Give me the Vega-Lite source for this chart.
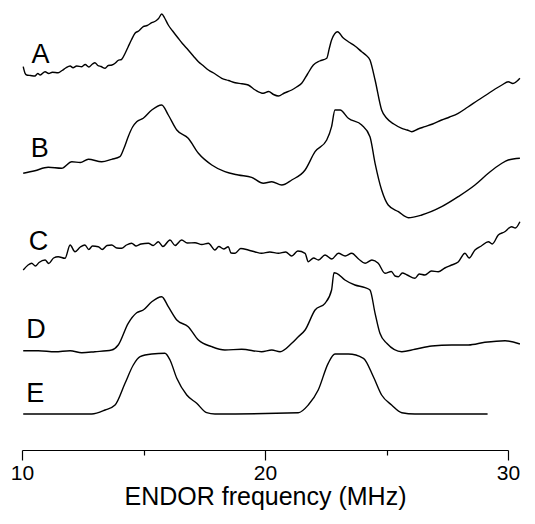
{
  "$schema": "https://vega.github.io/schema/vega-lite/v6.json",
  "width": 486,
  "height": 450,
  "autosize": {"type": "none"},
  "padding": {"left": 22, "top": 0, "right": 27, "bottom": 74},
  "background": "white",
  "config": {"view": {"stroke": null}, "font": "Liberation Sans"},
  "datasets": {
    "traces": [
      {"trace": "A", "freq": 10.05, "signal": 383.3},
      {"trace": "A", "freq": 10.12, "signal": 377},
      {"trace": "A", "freq": 10.19, "signal": 375},
      {"trace": "A", "freq": 10.35, "signal": 374.5},
      {"trace": "A", "freq": 10.53, "signal": 374},
      {"trace": "A", "freq": 10.65, "signal": 376.5},
      {"trace": "A", "freq": 10.75, "signal": 375},
      {"trace": "A", "freq": 10.95, "signal": 378.3},
      {"trace": "A", "freq": 11.1, "signal": 376.5},
      {"trace": "A", "freq": 11.25, "signal": 377.8},
      {"trace": "A", "freq": 11.49, "signal": 377.3},
      {"trace": "A", "freq": 11.65, "signal": 379.5},
      {"trace": "A", "freq": 11.8, "signal": 382},
      {"trace": "A", "freq": 11.98, "signal": 384},
      {"trace": "A", "freq": 12.1, "signal": 382.3},
      {"trace": "A", "freq": 12.25, "signal": 384},
      {"trace": "A", "freq": 12.46, "signal": 383.3},
      {"trace": "A", "freq": 12.6, "signal": 385.5},
      {"trace": "A", "freq": 12.75, "signal": 383},
      {"trace": "A", "freq": 12.9, "signal": 386},
      {"trace": "A", "freq": 13.0, "signal": 387.3},
      {"trace": "A", "freq": 13.12, "signal": 384.5},
      {"trace": "A", "freq": 13.25, "signal": 383.5},
      {"trace": "A", "freq": 13.42, "signal": 381.7},
      {"trace": "A", "freq": 13.55, "signal": 384.5},
      {"trace": "A", "freq": 13.7, "signal": 385},
      {"trace": "A", "freq": 13.83, "signal": 386.7},
      {"trace": "A", "freq": 13.95, "signal": 389.5},
      {"trace": "A", "freq": 14.1, "signal": 390.7},
      {"trace": "A", "freq": 14.25, "signal": 397},
      {"trace": "A", "freq": 14.37, "signal": 403.3},
      {"trace": "A", "freq": 14.5, "signal": 410},
      {"trace": "A", "freq": 14.65, "signal": 416.7},
      {"trace": "A", "freq": 14.8, "signal": 419},
      {"trace": "A", "freq": 14.99, "signal": 423.3},
      {"trace": "A", "freq": 15.15, "signal": 424.5},
      {"trace": "A", "freq": 15.34, "signal": 427.3},
      {"trace": "A", "freq": 15.5, "signal": 429},
      {"trace": "A", "freq": 15.62, "signal": 431.5},
      {"trace": "A", "freq": 15.75, "signal": 436},
      {"trace": "A", "freq": 15.87, "signal": 432},
      {"trace": "A", "freq": 16.02, "signal": 425},
      {"trace": "A", "freq": 16.2, "signal": 419},
      {"trace": "A", "freq": 16.43, "signal": 411.7},
      {"trace": "A", "freq": 16.6, "signal": 406.5},
      {"trace": "A", "freq": 16.84, "signal": 400},
      {"trace": "A", "freq": 17.05, "signal": 394},
      {"trace": "A", "freq": 17.26, "signal": 388.3},
      {"trace": "A", "freq": 17.45, "signal": 384.5},
      {"trace": "A", "freq": 17.67, "signal": 380},
      {"trace": "A", "freq": 17.95, "signal": 376},
      {"trace": "A", "freq": 18.22, "signal": 371.7},
      {"trace": "A", "freq": 18.5, "signal": 369.5},
      {"trace": "A", "freq": 18.77, "signal": 367.3},
      {"trace": "A", "freq": 19.05, "signal": 366.3},
      {"trace": "A", "freq": 19.31, "signal": 365},
      {"trace": "A", "freq": 19.6, "signal": 360},
      {"trace": "A", "freq": 19.93, "signal": 356.7},
      {"trace": "A", "freq": 20.15, "signal": 358.5},
      {"trace": "A", "freq": 20.35, "signal": 355.5},
      {"trace": "A", "freq": 20.55, "signal": 354},
      {"trace": "A", "freq": 20.8, "signal": 357},
      {"trace": "A", "freq": 21.1, "signal": 360},
      {"trace": "A", "freq": 21.3, "signal": 363},
      {"trace": "A", "freq": 21.51, "signal": 366.7},
      {"trace": "A", "freq": 21.75, "signal": 376},
      {"trace": "A", "freq": 21.99, "signal": 385},
      {"trace": "A", "freq": 22.25, "signal": 389},
      {"trace": "A", "freq": 22.54, "signal": 391.7},
      {"trace": "A", "freq": 22.65, "signal": 402},
      {"trace": "A", "freq": 22.74, "signal": 410},
      {"trace": "A", "freq": 22.99, "signal": 418.3},
      {"trace": "A", "freq": 23.2, "signal": 412.5},
      {"trace": "A", "freq": 23.43, "signal": 408.3},
      {"trace": "A", "freq": 23.7, "signal": 404},
      {"trace": "A", "freq": 23.98, "signal": 398.3},
      {"trace": "A", "freq": 24.15, "signal": 395},
      {"trace": "A", "freq": 24.32, "signal": 390},
      {"trace": "A", "freq": 24.53, "signal": 370},
      {"trace": "A", "freq": 24.8, "signal": 340},
      {"trace": "A", "freq": 25.01, "signal": 331.7},
      {"trace": "A", "freq": 25.3, "signal": 326},
      {"trace": "A", "freq": 25.63, "signal": 321.7},
      {"trace": "A", "freq": 25.85, "signal": 320},
      {"trace": "A", "freq": 26.04, "signal": 318.3},
      {"trace": "A", "freq": 26.3, "signal": 321},
      {"trace": "A", "freq": 26.58, "signal": 323.3},
      {"trace": "A", "freq": 26.9, "signal": 326},
      {"trace": "A", "freq": 27.27, "signal": 330},
      {"trace": "A", "freq": 27.6, "signal": 333},
      {"trace": "A", "freq": 27.95, "signal": 336.7},
      {"trace": "A", "freq": 28.35, "signal": 343},
      {"trace": "A", "freq": 28.78, "signal": 350},
      {"trace": "A", "freq": 29.1, "signal": 355},
      {"trace": "A", "freq": 29.47, "signal": 361},
      {"trace": "A", "freq": 29.75, "signal": 365},
      {"trace": "A", "freq": 30.01, "signal": 368.3},
      {"trace": "A", "freq": 30.2, "signal": 366.5},
      {"trace": "A", "freq": 30.49, "signal": 371.7},

      {"trace": "B", "freq": 10.05, "signal": 276.7},
      {"trace": "B", "freq": 10.53, "signal": 279.3},
      {"trace": "B", "freq": 11.08, "signal": 282.7},
      {"trace": "B", "freq": 11.63, "signal": 281.7},
      {"trace": "B", "freq": 12.05, "signal": 288.3},
      {"trace": "B", "freq": 12.4, "signal": 287.5},
      {"trace": "B", "freq": 12.73, "signal": 290.7},
      {"trace": "B", "freq": 13.28, "signal": 288.3},
      {"trace": "B", "freq": 13.69, "signal": 290.7},
      {"trace": "B", "freq": 14.03, "signal": 293.3},
      {"trace": "B", "freq": 14.2, "signal": 302},
      {"trace": "B", "freq": 14.37, "signal": 313.3},
      {"trace": "B", "freq": 14.55, "signal": 323},
      {"trace": "B", "freq": 14.72, "signal": 328.3},
      {"trace": "B", "freq": 14.99, "signal": 331.7},
      {"trace": "B", "freq": 15.34, "signal": 340},
      {"trace": "B", "freq": 15.75, "signal": 345},
      {"trace": "B", "freq": 16.02, "signal": 335},
      {"trace": "B", "freq": 16.37, "signal": 320},
      {"trace": "B", "freq": 16.84, "signal": 311.7},
      {"trace": "B", "freq": 17.26, "signal": 296.7},
      {"trace": "B", "freq": 17.81, "signal": 285},
      {"trace": "B", "freq": 18.35, "signal": 278.3},
      {"trace": "B", "freq": 18.9, "signal": 275},
      {"trace": "B", "freq": 19.45, "signal": 272.7},
      {"trace": "B", "freq": 19.93, "signal": 266.7},
      {"trace": "B", "freq": 20.28, "signal": 268.3},
      {"trace": "B", "freq": 20.69, "signal": 265},
      {"trace": "B", "freq": 21.1, "signal": 270},
      {"trace": "B", "freq": 21.65, "signal": 280},
      {"trace": "B", "freq": 22.06, "signal": 298.3},
      {"trace": "B", "freq": 22.54, "signal": 310},
      {"trace": "B", "freq": 22.74, "signal": 323.3},
      {"trace": "B", "freq": 22.88, "signal": 340},
      {"trace": "B", "freq": 23.09, "signal": 340},
      {"trace": "B", "freq": 23.43, "signal": 331.7},
      {"trace": "B", "freq": 23.98, "signal": 325},
      {"trace": "B", "freq": 24.32, "signal": 313.3},
      {"trace": "B", "freq": 24.53, "signal": 286.7},
      {"trace": "B", "freq": 24.8, "signal": 260},
      {"trace": "B", "freq": 25.07, "signal": 245},
      {"trace": "B", "freq": 25.49, "signal": 238.3},
      {"trace": "B", "freq": 25.9, "signal": 232.3},
      {"trace": "B", "freq": 26.45, "signal": 235},
      {"trace": "B", "freq": 27.27, "signal": 243.3},
      {"trace": "B", "freq": 27.95, "signal": 253.3},
      {"trace": "B", "freq": 28.64, "signal": 265},
      {"trace": "B", "freq": 29.19, "signal": 276.7},
      {"trace": "B", "freq": 29.7, "signal": 286},
      {"trace": "B", "freq": 30.01, "signal": 290},
      {"trace": "B", "freq": 30.49, "signal": 291.7},

      {"trace": "C", "freq": 10.05, "signal": 180},
      {"trace": "C", "freq": 10.25, "signal": 185},
      {"trace": "C", "freq": 10.4, "signal": 186.7},
      {"trace": "C", "freq": 10.55, "signal": 184},
      {"trace": "C", "freq": 10.7, "signal": 187.5},
      {"trace": "C", "freq": 10.95, "signal": 190},
      {"trace": "C", "freq": 11.1, "signal": 186.5},
      {"trace": "C", "freq": 11.3, "signal": 192},
      {"trace": "C", "freq": 11.49, "signal": 193.3},
      {"trace": "C", "freq": 11.77, "signal": 191.7},
      {"trace": "C", "freq": 11.98, "signal": 205},
      {"trace": "C", "freq": 12.18, "signal": 198.3},
      {"trace": "C", "freq": 12.4, "signal": 203},
      {"trace": "C", "freq": 12.59, "signal": 205},
      {"trace": "C", "freq": 12.75, "signal": 200.5},
      {"trace": "C", "freq": 12.9, "signal": 204},
      {"trace": "C", "freq": 13.14, "signal": 203.3},
      {"trace": "C", "freq": 13.3, "signal": 200.5},
      {"trace": "C", "freq": 13.5, "signal": 204.5},
      {"trace": "C", "freq": 13.69, "signal": 205},
      {"trace": "C", "freq": 13.9, "signal": 202},
      {"trace": "C", "freq": 14.1, "signal": 201.7},
      {"trace": "C", "freq": 14.3, "signal": 205},
      {"trace": "C", "freq": 14.51, "signal": 206.7},
      {"trace": "C", "freq": 14.7, "signal": 204},
      {"trace": "C", "freq": 14.9, "signal": 206},
      {"trace": "C", "freq": 15.2, "signal": 206.7},
      {"trace": "C", "freq": 15.4, "signal": 204.5},
      {"trace": "C", "freq": 15.61, "signal": 208.3},
      {"trace": "C", "freq": 15.8, "signal": 203.5},
      {"trace": "C", "freq": 16.09, "signal": 210},
      {"trace": "C", "freq": 16.3, "signal": 204.5},
      {"trace": "C", "freq": 16.57, "signal": 210},
      {"trace": "C", "freq": 16.8, "signal": 207},
      {"trace": "C", "freq": 17.12, "signal": 207.3},
      {"trace": "C", "freq": 17.4, "signal": 205.5},
      {"trace": "C", "freq": 17.67, "signal": 206.7},
      {"trace": "C", "freq": 17.94, "signal": 200},
      {"trace": "C", "freq": 18.1, "signal": 203.5},
      {"trace": "C", "freq": 18.3, "signal": 201},
      {"trace": "C", "freq": 18.49, "signal": 203.3},
      {"trace": "C", "freq": 18.6, "signal": 197},
      {"trace": "C", "freq": 18.77, "signal": 196.7},
      {"trace": "C", "freq": 19.0, "signal": 201.5},
      {"trace": "C", "freq": 19.31, "signal": 200},
      {"trace": "C", "freq": 19.6, "signal": 198},
      {"trace": "C", "freq": 19.86, "signal": 196.7},
      {"trace": "C", "freq": 20.2, "signal": 198},
      {"trace": "C", "freq": 20.55, "signal": 196.7},
      {"trace": "C", "freq": 20.85, "signal": 198},
      {"trace": "C", "freq": 21.1, "signal": 194},
      {"trace": "C", "freq": 21.35, "signal": 199},
      {"trace": "C", "freq": 21.65, "signal": 196.7},
      {"trace": "C", "freq": 21.78, "signal": 188.3},
      {"trace": "C", "freq": 22.0, "signal": 192},
      {"trace": "C", "freq": 22.2, "signal": 190},
      {"trace": "C", "freq": 22.47, "signal": 195},
      {"trace": "C", "freq": 22.75, "signal": 191},
      {"trace": "C", "freq": 23.02, "signal": 196.7},
      {"trace": "C", "freq": 23.3, "signal": 194},
      {"trace": "C", "freq": 23.57, "signal": 196.7},
      {"trace": "C", "freq": 23.85, "signal": 191},
      {"trace": "C", "freq": 24.12, "signal": 186.7},
      {"trace": "C", "freq": 24.4, "signal": 190},
      {"trace": "C", "freq": 24.66, "signal": 186.7},
      {"trace": "C", "freq": 24.94, "signal": 176.7},
      {"trace": "C", "freq": 25.2, "signal": 178.5},
      {"trace": "C", "freq": 25.35, "signal": 174},
      {"trace": "C", "freq": 25.49, "signal": 173.3},
      {"trace": "C", "freq": 25.65, "signal": 177},
      {"trace": "C", "freq": 25.85, "signal": 175},
      {"trace": "C", "freq": 26.17, "signal": 171.7},
      {"trace": "C", "freq": 26.35, "signal": 176},
      {"trace": "C", "freq": 26.58, "signal": 175},
      {"trace": "C", "freq": 26.85, "signal": 179},
      {"trace": "C", "freq": 27.13, "signal": 178.3},
      {"trace": "C", "freq": 27.4, "signal": 182},
      {"trace": "C", "freq": 27.68, "signal": 185},
      {"trace": "C", "freq": 27.95, "signal": 188},
      {"trace": "C", "freq": 28.23, "signal": 196.7},
      {"trace": "C", "freq": 28.4, "signal": 192},
      {"trace": "C", "freq": 28.64, "signal": 200},
      {"trace": "C", "freq": 28.9, "signal": 204},
      {"trace": "C", "freq": 29.19, "signal": 208.3},
      {"trace": "C", "freq": 29.35, "signal": 206},
      {"trace": "C", "freq": 29.6, "signal": 215},
      {"trace": "C", "freq": 29.85, "signal": 218},
      {"trace": "C", "freq": 30.15, "signal": 223.3},
      {"trace": "C", "freq": 30.3, "signal": 222},
      {"trace": "C", "freq": 30.49, "signal": 228.3},

      {"trace": "D", "freq": 10.05, "signal": 99.3},
      {"trace": "D", "freq": 10.67, "signal": 99.3},
      {"trace": "D", "freq": 11.36, "signal": 98.3},
      {"trace": "D", "freq": 11.98, "signal": 99.3},
      {"trace": "D", "freq": 12.46, "signal": 97.3},
      {"trace": "D", "freq": 13.0, "signal": 98.3},
      {"trace": "D", "freq": 13.69, "signal": 100},
      {"trace": "D", "freq": 13.96, "signal": 105},
      {"trace": "D", "freq": 14.37, "signal": 126.7},
      {"trace": "D", "freq": 14.72, "signal": 137.3},
      {"trace": "D", "freq": 14.99, "signal": 140},
      {"trace": "D", "freq": 15.34, "signal": 148.3},
      {"trace": "D", "freq": 15.75, "signal": 153.3},
      {"trace": "D", "freq": 16.02, "signal": 143.3},
      {"trace": "D", "freq": 16.37, "signal": 130},
      {"trace": "D", "freq": 16.84, "signal": 123.3},
      {"trace": "D", "freq": 17.26, "signal": 110},
      {"trace": "D", "freq": 17.81, "signal": 103.3},
      {"trace": "D", "freq": 18.35, "signal": 100},
      {"trace": "D", "freq": 19.04, "signal": 100.7},
      {"trace": "D", "freq": 19.86, "signal": 98.3},
      {"trace": "D", "freq": 20.28, "signal": 100},
      {"trace": "D", "freq": 20.62, "signal": 98.3},
      {"trace": "D", "freq": 21.1, "signal": 106.7},
      {"trace": "D", "freq": 21.37, "signal": 113.3},
      {"trace": "D", "freq": 21.65, "signal": 120},
      {"trace": "D", "freq": 22.06, "signal": 140},
      {"trace": "D", "freq": 22.47, "signal": 146.7},
      {"trace": "D", "freq": 22.74, "signal": 160},
      {"trace": "D", "freq": 22.84, "signal": 177.3},
      {"trace": "D", "freq": 22.95, "signal": 176.7},
      {"trace": "D", "freq": 23.29, "signal": 170},
      {"trace": "D", "freq": 23.7, "signal": 165},
      {"trace": "D", "freq": 24.12, "signal": 162.3},
      {"trace": "D", "freq": 24.32, "signal": 160},
      {"trace": "D", "freq": 24.53, "signal": 136.7},
      {"trace": "D", "freq": 24.73, "signal": 116.7},
      {"trace": "D", "freq": 25.01, "signal": 106.7},
      {"trace": "D", "freq": 25.63, "signal": 98.3},
      {"trace": "D", "freq": 26.17, "signal": 100.7},
      {"trace": "D", "freq": 26.86, "signal": 104},
      {"trace": "D", "freq": 27.68, "signal": 105},
      {"trace": "D", "freq": 28.37, "signal": 105},
      {"trace": "D", "freq": 29.05, "signal": 107.7},
      {"trace": "D", "freq": 29.88, "signal": 109.3},
      {"trace": "D", "freq": 30.49, "signal": 106},

      {"trace": "E", "freq": 10.05, "signal": 36},
      {"trace": "E", "freq": 12.87, "signal": 36},
      {"trace": "E", "freq": 13.42, "signal": 40},
      {"trace": "E", "freq": 13.83, "signal": 45},
      {"trace": "E", "freq": 14.24, "signal": 66.7},
      {"trace": "E", "freq": 14.58, "signal": 85},
      {"trace": "E", "freq": 14.86, "signal": 93.3},
      {"trace": "E", "freq": 15.34, "signal": 96},
      {"trace": "E", "freq": 15.88, "signal": 96.7},
      {"trace": "E", "freq": 16.09, "signal": 90},
      {"trace": "E", "freq": 16.37, "signal": 71.7},
      {"trace": "E", "freq": 16.78, "signal": 55},
      {"trace": "E", "freq": 17.19, "signal": 46.7},
      {"trace": "E", "freq": 17.6, "signal": 37.3},
      {"trace": "E", "freq": 17.94, "signal": 36},
      {"trace": "E", "freq": 21.37, "signal": 37.3},
      {"trace": "E", "freq": 21.78, "signal": 45},
      {"trace": "E", "freq": 22.19, "signal": 60},
      {"trace": "E", "freq": 22.6, "signal": 86.7},
      {"trace": "E", "freq": 22.88, "signal": 96},
      {"trace": "E", "freq": 23.43, "signal": 96},
      {"trace": "E", "freq": 24.05, "signal": 91.7},
      {"trace": "E", "freq": 24.46, "signal": 73.3},
      {"trace": "E", "freq": 24.8, "signal": 55},
      {"trace": "E", "freq": 25.21, "signal": 45},
      {"trace": "E", "freq": 25.63, "signal": 37.3},
      {"trace": "E", "freq": 26.17, "signal": 36},
      {"trace": "E", "freq": 29.16, "signal": 36}
    ],
    "labels": [
      {"trace": "A", "freq": 10.39, "signal": 387},
      {"trace": "B", "freq": 10.36, "signal": 293.3},
      {"trace": "C", "freq": 10.28, "signal": 200},
      {"trace": "D", "freq": 10.18, "signal": 112},
      {"trace": "E", "freq": 10.18, "signal": 48.3}
    ]
  },
  "layer": [
    {
      "data": {"name": "traces"},
      "mark": {"type": "line", "color": "black", "strokeWidth": 1.4, "interpolate": "monotone"},
      "encoding": {
        "x": {
          "field": "freq",
          "type": "quantitative",
          "scale": {"domain": [10, 30], "nice": false, "zero": false},
          "axis": {
            "title": "ENDOR frequency (MHz)",
            "values": [10, 15, 20, 25, 30],
            "tickSize": {"condition": {"test": "datum.value % 10 === 0", "value": 10}, "value": 5},
            "labelExpr": "datum.value % 10 === 0 ? datum.label : ''",
            "grid": false,
            "domainColor": "black",
            "domainWidth": 1.2,
            "tickColor": "black",
            "tickWidth": 1.2,
            "labelColor": "black",
            "labelFont": "Liberation Sans",
            "labelFontSize": 21,
            "labelPadding": 2,
            "labelFlush": false,
            "titleColor": "black",
            "titleFont": "Liberation Sans",
            "titleFontSize": 25,
            "titleFontWeight": "normal",
            "titlePadding": 1
          }
        },
        "y": {
          "field": "signal",
          "type": "quantitative",
          "scale": {"domain": [0, 450], "nice": false, "zero": false},
          "axis": null
        },
        "detail": {"field": "trace", "type": "nominal"}
      }
    },
    {
      "data": {"name": "labels"},
      "mark": {"type": "text", "align": "left", "baseline": "alphabetic", "fontSize": 27, "font": "Liberation Sans", "color": "black"},
      "encoding": {
        "x": {"field": "freq", "type": "quantitative"},
        "y": {"field": "signal", "type": "quantitative"},
        "text": {"field": "trace", "type": "nominal"}
      }
    }
  ]
}
